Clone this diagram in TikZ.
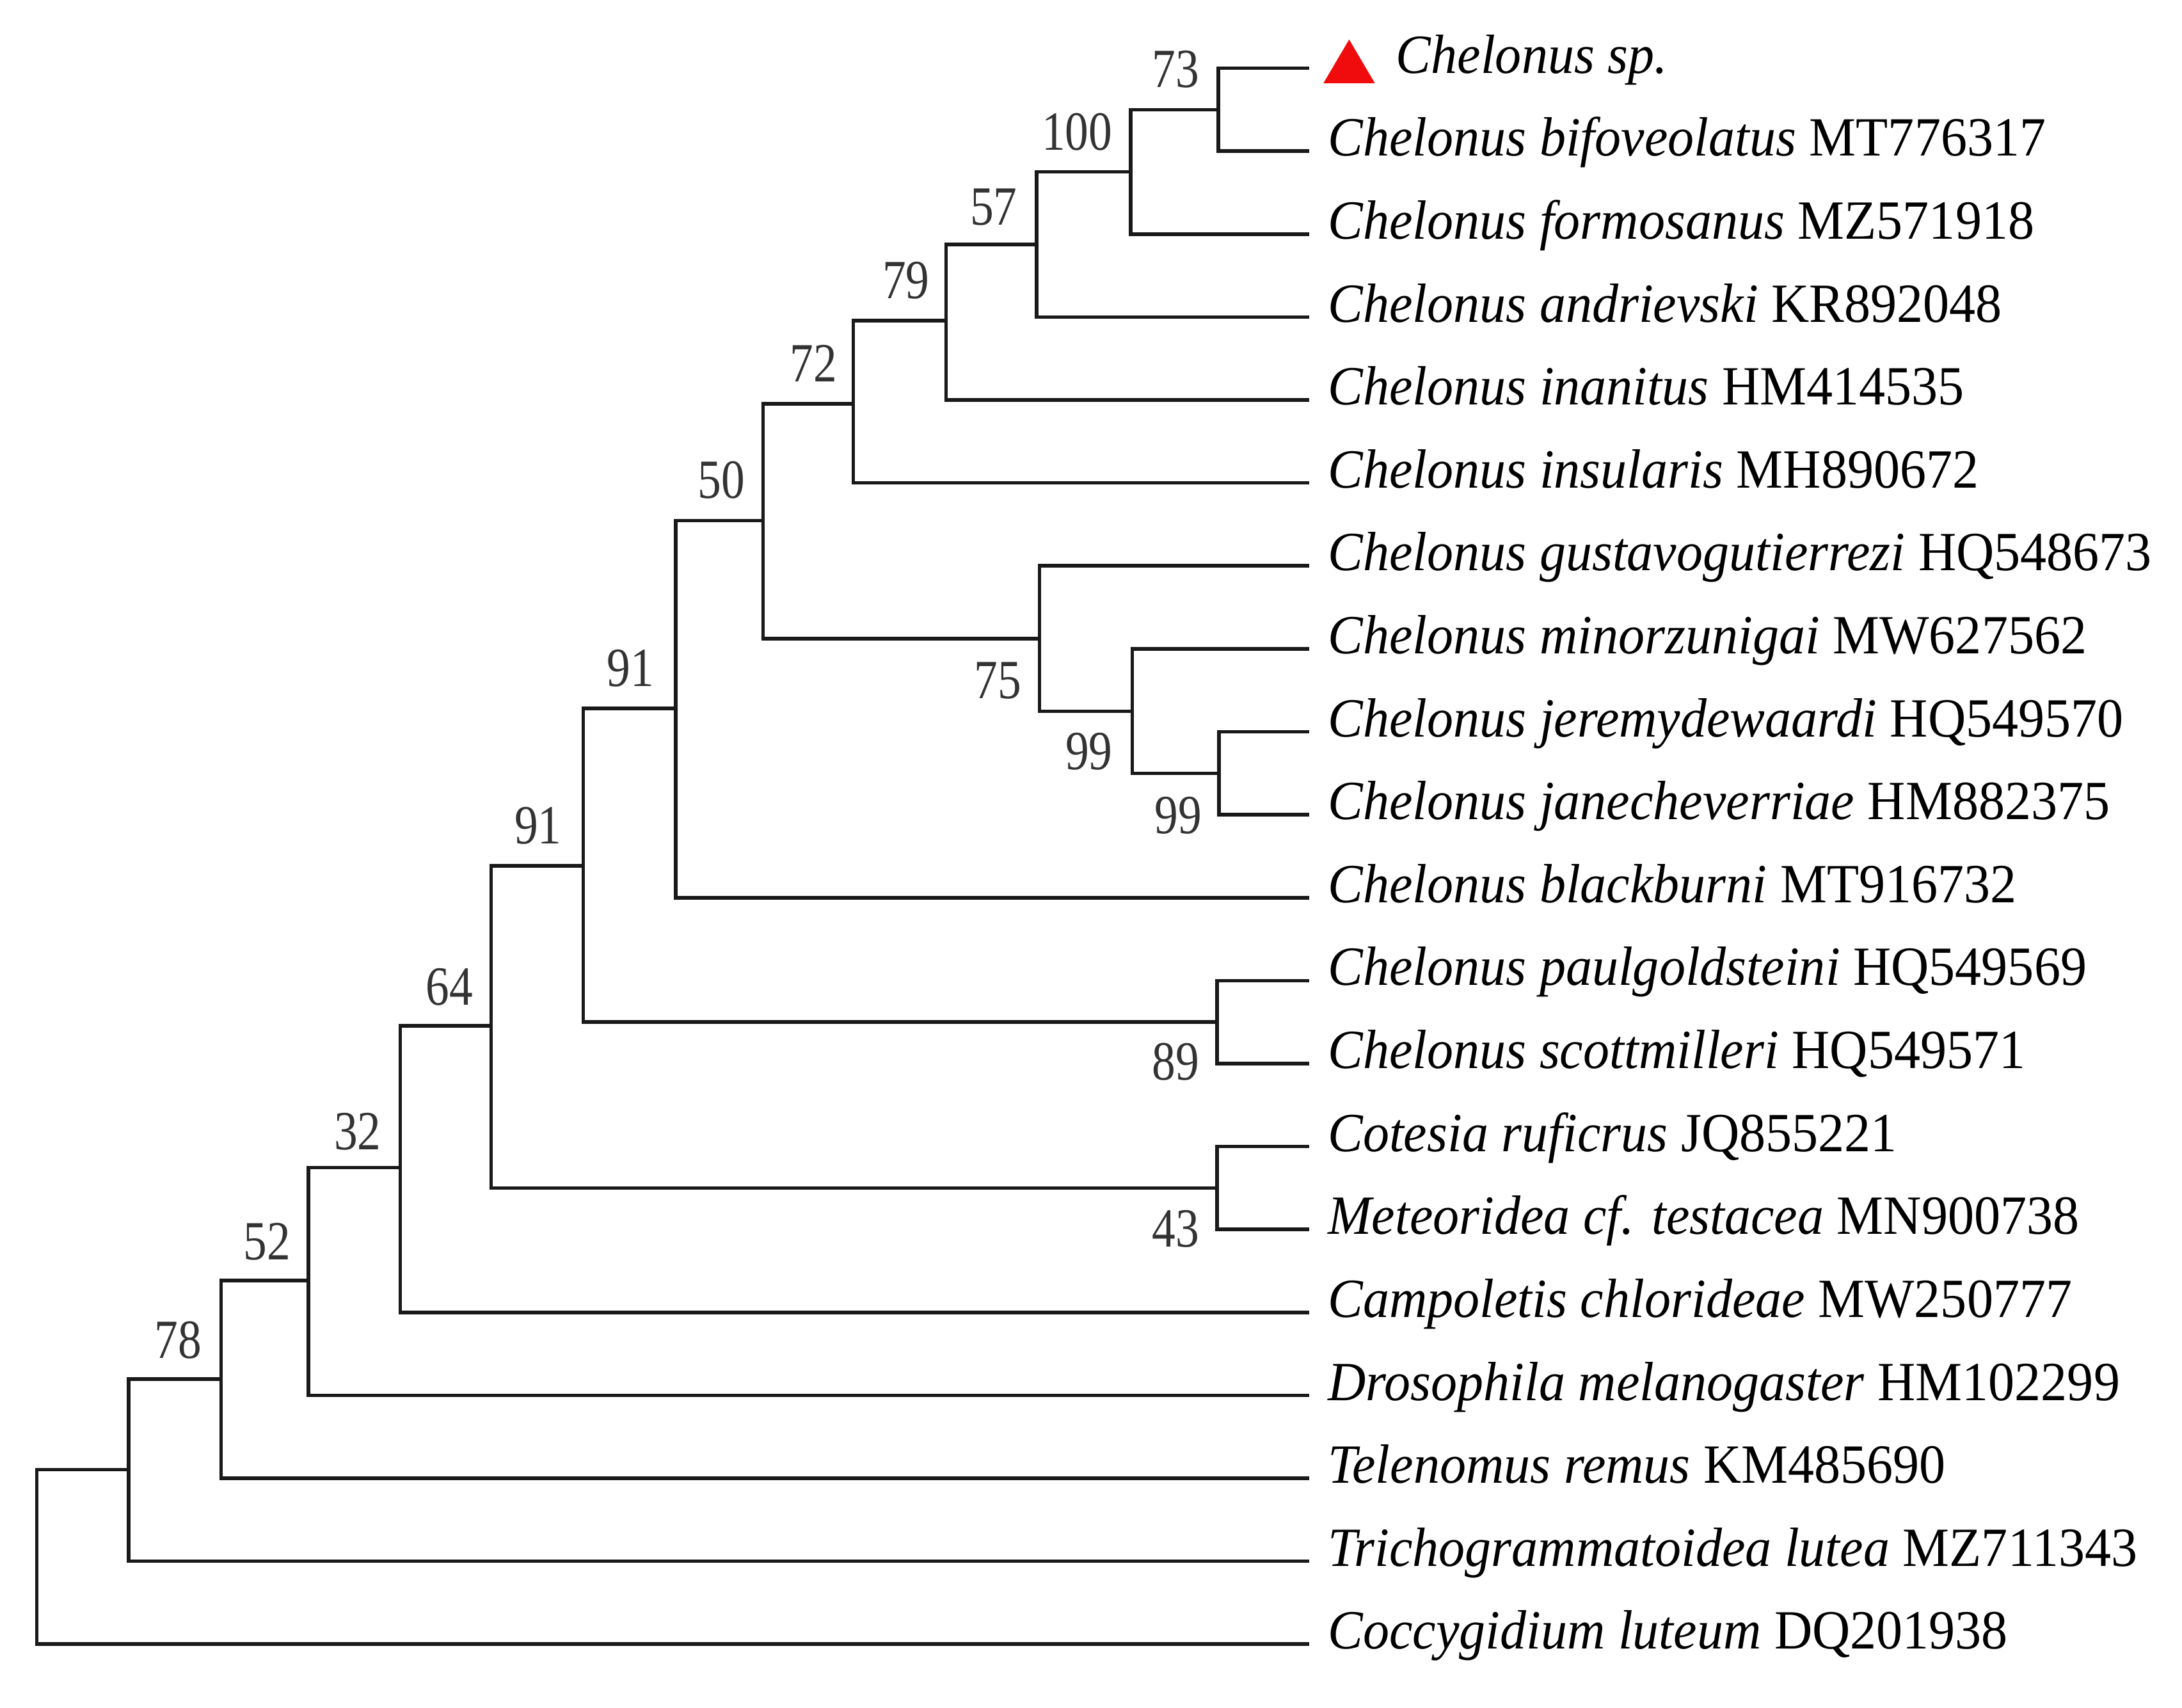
\documentclass[tikz,border=0pt]{standalone}
\usepackage{fontspec}
\setmainfont{Liberation Serif}
\newfontfamily\taxfont[FakeStretch=0.95]{Liberation Serif}
\newfontfamily\bootfont[FakeStretch=0.85]{Liberation Serif}
\definecolor{marker}{RGB}{240,12,12}

\begin{document}
\begin{tikzpicture}[x=0.010874cm,y=-0.010874cm,line width=0.8pt,
  branch/.style={draw=black!90},
  taxon/.style={anchor=base west,inner sep=0pt,font=\taxfont\fontsize{12.3}{14}\selectfont},
  boot/.style={inner sep=0pt,text=black!80,font=\bootfont\fontsize{12.3}{14}\selectfont}]

\useasboundingbox (0,0) rectangle (1568,1227);

% tips
\coordinate (sp) at (941,49);
\fill[marker] (951,59.8) -- (969.5,28.4) -- (988,59.8) -- cycle;
\node[taxon] (sp-lab) at (1002,52.5) {\textit{Chelonus sp.}};

\foreach \nm/\yy/\gen/\acc in {
    bifov/108.6/Chelonus bifoveolatus/MT776317,
    formo/168.2/Chelonus formosanus/MZ571918,
    andri/227.8/Chelonus andrievski/KR892048,
    inani/287.4/Chelonus inanitus/HM414535,
    insul/347/Chelonus insularis/MH890672,
    gusta/406.6/Chelonus gustavogutierrezi/HQ548673,
    minor/466.2/Chelonus minorzunigai/MW627562,
    jerem/525.8/Chelonus jeremydewaardi/HQ549570,
    janec/585.4/Chelonus janecheverriae/HM882375,
    black/645/Chelonus blackburni/MT916732,
    paulg/704.6/Chelonus paulgoldsteini/HQ549569,
    scott/764.2/Chelonus scottmilleri/HQ549571,
    cotes/823.8/Cotesia ruficrus/JQ855221,
    meteo/883.4/Meteoridea cf. testacea/MN900738,
    campo/943/Campoletis chlorideae/MW250777,
    droso/1002.6/Drosophila melanogaster/HM102299,
    telen/1062.2/Telenomus remus/KM485690,
    trich/1121.8/Trichogrammatoidea lutea/MZ711343,
    coccy/1181.4/Coccygidium luteum/DQ201938}{
  \coordinate (\nm) at (941,\yy);
  \node[taxon] (\nm-lab) at (953,\yy+3.5) {\textit{\gen} \acc};
}

% internal nodes
\coordinate (root) at (26.5,1118);
\coordinate (outg) at (92.4,1056);
\coordinate (n78) at (158.9,991);
\coordinate (n52) at (221.7,920);
\coordinate (n32) at (287.6,839);
\coordinate (n64) at (352.9,737);
\coordinate (n43) at (874.5,853.6);
\coordinate (n91a) at (419.2,622);
\coordinate (n89) at (874.5,734.4);
\coordinate (n91b) at (485.6,509);
\coordinate (n50) at (548.4,374);
\coordinate (n75) at (747,459);
\coordinate (n99a) at (813.6,511);
\coordinate (n99b) at (876,555.6);
\coordinate (n72) at (613.1,290);
\coordinate (n79) at (679.8,230.5);
\coordinate (n57) at (745,175.5);
\coordinate (n100) at (812.5,123.5);
\coordinate (n73) at (875.5,78.8);

\path[branch]
    (root) |- (outg)   (root) |- (coccy)
    (outg) |- (n78)    (outg) |- (trich)
    (n78) |- (n52)     (n78) |- (telen)
    (n52) |- (n32)     (n52) |- (droso)
    (n32) |- (n64)     (n32) |- (campo)
    (n64) |- (n91a)    (n64) |- (n43)
    (n43) |- (cotes)   (n43) |- (meteo)
    (n91a) |- (n91b)   (n91a) |- (n89)
    (n89) |- (paulg)   (n89) |- (scott)
    (n91b) |- (n50)    (n91b) |- (black)
    (n50) |- (n72)     (n50) |- (n75)
    (n75) |- (gusta)   (n75) |- (n99a)
    (n99a) |- (minor)  (n99a) |- (n99b)
    (n99b) |- (jerem)  (n99b) |- (janec)
    (n72) |- (n79)     (n72) |- (insul)
    (n79) |- (n57)     (n79) |- (inani)
    (n57) |- (n100)    (n57) |- (andri)
    (n100) |- (n73)    (n100) |- (formo)
    (n73) |- (sp)      (n73) |- (bifov)
;

% bootstrap values
\node[boot] (b73) at (845,50) {73};
\node[boot] (b100) at (774,95) {100};
\node[boot] (b57) at (714,149) {57};
\node[boot] (b79) at (651,201.6) {79};
\node[boot] (b72) at (584.6,261) {72};
\node[boot] (b50) at (518.5,345) {50};
\node[boot] (b75) at (717,489) {75};
\node[boot] (b99a) at (782.6,540) {99};
\node[boot] (b99b) at (846.6,586) {99};
\node[boot] (b91b) at (453,480) {91};
\node[boot] (b91a) at (386.6,593.5) {91};
\node[boot] (b64) at (323,709) {64};
\node[boot] (b89) at (845,763) {89};
\node[boot] (b32) at (257,813) {32};
\node[boot] (b43) at (845,883) {43};
\node[boot] (b52) at (192,892) {52};
\node[boot] (b78) at (128,963) {78};

\end{tikzpicture}
\end{document}
